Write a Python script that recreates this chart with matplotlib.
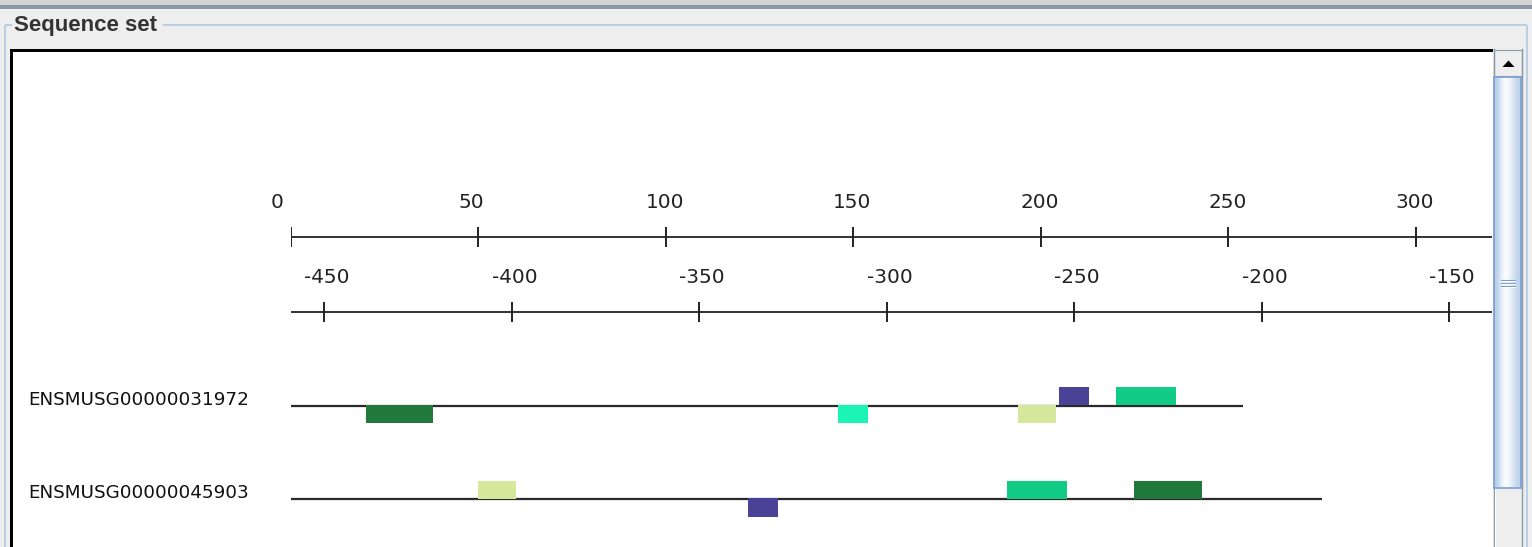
import matplotlib
matplotlib.use("Agg")
import matplotlib.pyplot as plt
import numpy as np
from matplotlib.patches import Rectangle, Polygon
from matplotlib.transforms import offset_copy
from matplotlib.colors import LinearSegmentedColormap

# ---- data -------------------------------------------------------------
gene_names = ["ENSMUSG00000031972", "ENSMUSG00000045903"]
seq_lengths = [254, 275]

# motif hits per sequence: start, end, strand (+1 above the line, -1 below), colour
hits_seq1_start = [20, 146, 194, 205, 220]
hits_seq1_end = [38, 154, 204, 213, 236]
hits_seq1_strand = [-1, -1, -1, 1, 1]
hits_seq1_color = ["#217a3c", "#1af5b5", "#d6e89c", "#4a4296", "#12cc85"]

hits_seq2_start = [50, 122, 191, 225]
hits_seq2_end = [60, 130, 207, 243]
hits_seq2_strand = [1, -1, 1, 1]
hits_seq2_color = ["#d6e89c", "#4a4296", "#12cc85", "#217a3c"]

top_ruler_ticks = [0, 50, 100, 150, 200, 250, 300]
bottom_ruler_ticks = [-450, -400, -350, -300, -250, -200, -150]
bottom_ruler_offset = 459   # relative coordinate = position - offset

# ---- layout (pixels) --------------------------------------------------
W, H = 1532, 547
DPI = 100
X0_PX = 290.5        # pixel column of position 0
PX_PER_BP = 3.75
VIEW_RIGHT_PX = 1492
PANEL_TOP = 52
TOP_RULER_Y = 237
BOTTOM_RULER_Y = 312
TRACK_Y = [405.5, 499.0]
BOX_H = 18.5

fig = plt.figure(figsize=(W / DPI, H / DPI), dpi=DPI)

# window chrome drawn in pixel coordinates
bg = fig.add_axes([0, 0, 1, 1])
bg.set_xlim(0, W)
bg.set_ylim(H, 0)
bg.axis("off")
bg.add_patch(Rectangle((0, 0), W, H, facecolor="#eeeeee", edgecolor="none"))
bg.add_patch(Rectangle((0, 0), W, 5, facecolor="#d2d4d6", edgecolor="none"))
bg.add_patch(Rectangle((0, 5), W, 4, facecolor="#8a97a8", edgecolor="none"))

# titled group border
gb = "#b8cfe5"
bg.plot([5, 12], [24.5, 24.5], color=gb, lw=1.4, solid_capstyle="butt")
bg.plot([163, 1527], [24.5, 24.5], color=gb, lw=1.4, solid_capstyle="butt")
bg.plot([5, 5], [24.5, H], color=gb, lw=1.4, solid_capstyle="butt")
bg.plot([1527, 1527], [24.5, H], color=gb, lw=1.4, solid_capstyle="butt")
bg.text(14, 25.5, "Sequence set", fontsize=16, fontweight="bold",
        family="Liberation Sans", color="#333333", va="center", ha="left")

# white drawing panel with black inset border
bg.add_patch(Rectangle((10, 49), 1483, H - 49, facecolor="white", edgecolor="none"))
bg.add_patch(Rectangle((9.5, 49), 3, H - 49, facecolor="black", edgecolor="none"))
bg.add_patch(Rectangle((9.5, 49), 1484, 3, facecolor="black", edgecolor="none"))

# vertical scrollbar
bg.add_patch(Rectangle((1493, 49), 29, H - 49, facecolor="#eeeeee", edgecolor="none"))
bg.plot([1493.5, 1493.5], [49, H], color="#8a99a6", lw=1.0)
bg.plot([1495, 1495], [76, H], color="#ffffff", lw=0.8)
bg.plot([1521.5, 1521.5], [49, H], color="#8a99a6", lw=1.0)
bg.add_patch(Rectangle((1494, 49.5), 27.5, 26.5, facecolor="#eeeeee",
                       edgecolor="#8a99a6", lw=0.8))
bg.add_patch(Polygon([[1502.5, 67], [1514.5, 67], [1508.5, 60.5]],
                     closed=True, facecolor="black", edgecolor="none"))
grad = np.array([[0.0, 0.35, 0.75, 1.0, 0.85, 0.55, 0.3, 0.12]])
thumb_cmap = LinearSegmentedColormap.from_list("thumb", ["#b3cbe7", "#ffffff"])
bg.imshow(grad, cmap=thumb_cmap, aspect="auto", extent=[1494, 1521, 488, 77],
          interpolation="bicubic", zorder=3)
bg.add_patch(Rectangle((1494, 77), 27, 411, facecolor="none",
                       edgecolor="#7c9ed4", lw=1.2, zorder=4))
for gy in (280, 283, 286):
    bg.plot([1501, 1515], [gy, gy], color="#7c9ed4", lw=0.8, zorder=5)
    bg.plot([1501, 1515], [gy + 1, gy + 1], color="#ffffff", lw=0.6, zorder=5)

# gene labels
for name, ty in zip(gene_names, TRACK_Y):
    bg.text(28, ty - 0.5, name, fontsize=13.2, family="DejaVu Sans",
            color="#111111", ha="left", va="baseline")

# ---- sequence view in sequence coordinates ----------------------------
left = X0_PX / W
width = (VIEW_RIGHT_PX - X0_PX) / W
ax = fig.add_axes([left, 0, width, (H - PANEL_TOP) / H])
ax.set_xlim(0, (VIEW_RIGHT_PX - X0_PX) / PX_PER_BP)
ax.set_ylim(H, PANEL_TOP)
ax.axis("off")
ax.patch.set_alpha(0)

ink = "#222222"
label_tr = offset_copy(ax.transData, fig=fig, x=-20, y=0, units="dots")

# top ruler
xmax = ax.get_xlim()[1]
ax.plot([0, xmax], [TOP_RULER_Y, TOP_RULER_Y], color=ink, lw=1.3,
        solid_capstyle="butt")
ax.vlines(top_ruler_ticks, TOP_RULER_Y - 10, TOP_RULER_Y + 10, color=ink, lw=1.4)
for t in top_ruler_ticks:
    ax.text(t, TOP_RULER_Y - 29, str(t), transform=label_tr, fontsize=14.4,
            family="DejaVu Sans", color=ink, ha="left", va="baseline")

# bottom ruler (relative coordinates)
ax.plot([0, xmax], [BOTTOM_RULER_Y, BOTTOM_RULER_Y], color=ink, lw=1.3,
        solid_capstyle="butt")
bpos = [t + bottom_ruler_offset for t in bottom_ruler_ticks]
ax.vlines(bpos, BOTTOM_RULER_Y - 10, BOTTOM_RULER_Y + 10, color=ink, lw=1.4)
for t, p in zip(bottom_ruler_ticks, bpos):
    ax.text(p, BOTTOM_RULER_Y - 29, "-" + str(abs(t)), transform=label_tr,
            fontsize=14.4, family="DejaVu Sans", color=ink, ha="left",
            va="baseline")

# sequences and motif hits
tracks = [
    (hits_seq1_start, hits_seq1_end, hits_seq1_strand, hits_seq1_color),
    (hits_seq2_start, hits_seq2_end, hits_seq2_strand, hits_seq2_color),
]
for ty, length, (starts, ends, strands, colors) in zip(TRACK_Y, seq_lengths, tracks):
    ax.plot([0, length], [ty, ty], color="#2a2a2a", lw=1.6,
            solid_capstyle="butt", zorder=1)
    for s, e, st, c in zip(starts, ends, strands, colors):
        if st > 0:
            y0 = ty - BOX_H
            h = BOX_H - 0.5
        else:
            y0 = ty - 1
            h = BOX_H
        ax.add_patch(Rectangle((s, y0), e - s, h, facecolor=c,
                               edgecolor="none", zorder=2))

fig.savefig("out.png", dpi=DPI)
